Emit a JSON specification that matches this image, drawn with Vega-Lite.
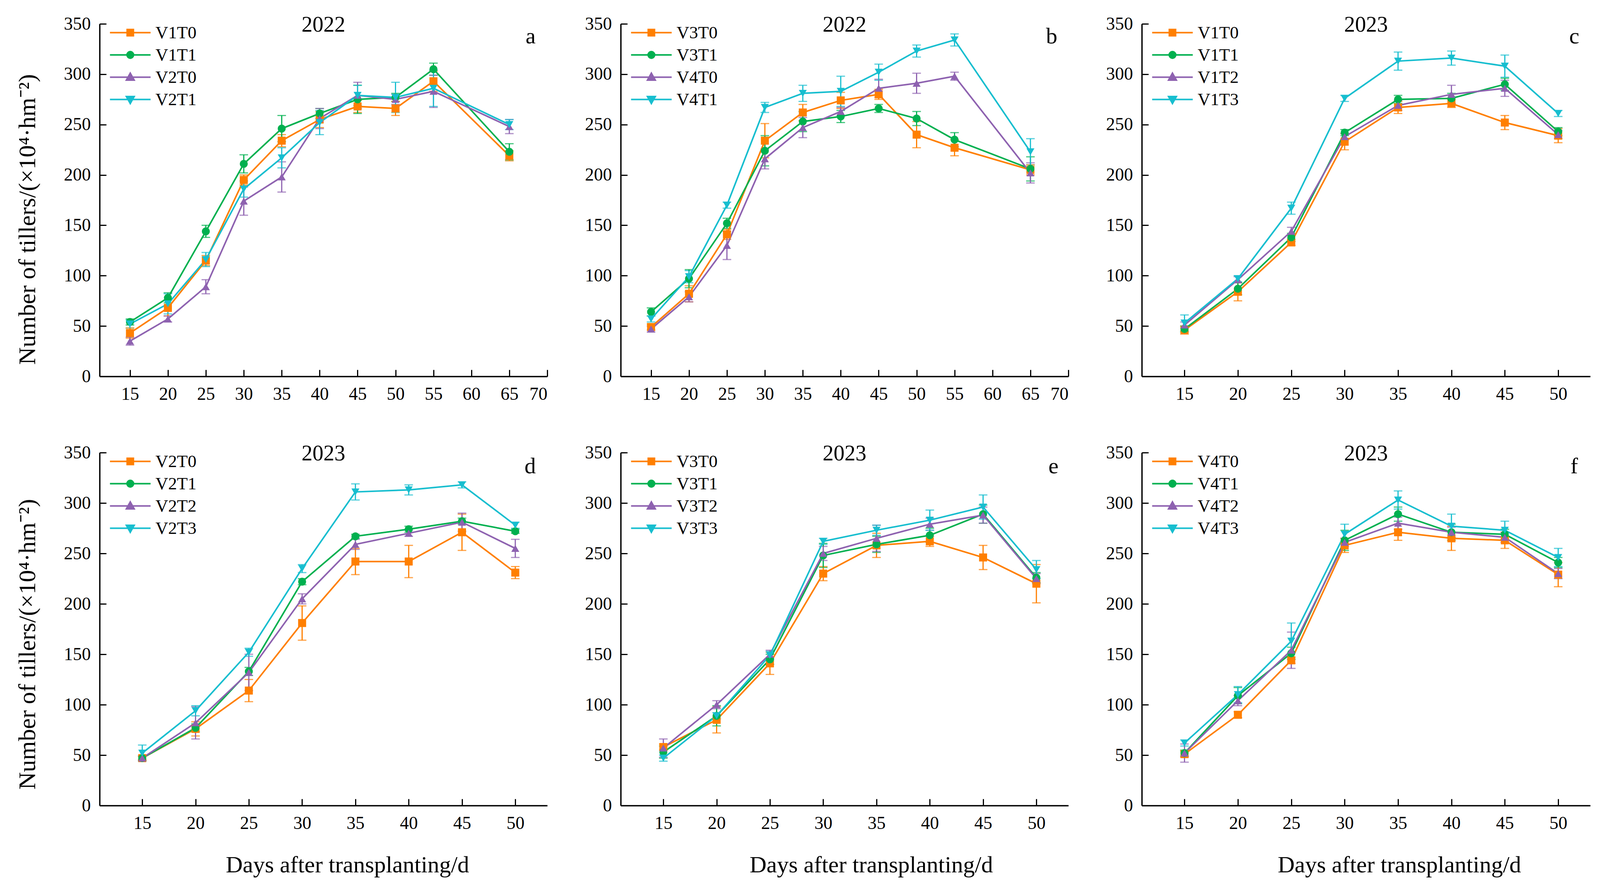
{
"$schema": "https://vega.github.io/schema/vega-lite/v6.json",
"background": "white",
"padding": {"left": 38, "top": 36, "right": 5, "bottom": 52},
"columns": 3,
"spacing": {"row": 195, "column": 188},
"bounds": "flush",
"resolve": {"scale": {"color": "independent", "x": "independent", "y": "independent"}, "legend": {"color": "independent"}, "axis": {"x": "independent", "y": "independent"}},
"datasets": {"tillers": [
{"panel":"a","series":"V1T0","day":15,"mean":43,"sd":5},{"panel":"a","series":"V1T0","day":20,"mean":68,"sd":8},{"panel":"a","series":"V1T0","day":25,"mean":115,"sd":5},{"panel":"a","series":"V1T0","day":30,"mean":195,"sd":5},{"panel":"a","series":"V1T0","day":35,"mean":234,"sd":6},{"panel":"a","series":"V1T0","day":40,"mean":255,"sd":8},{"panel":"a","series":"V1T0","day":45,"mean":268,"sd":6},{"panel":"a","series":"V1T0","day":50,"mean":266,"sd":7},{"panel":"a","series":"V1T0","day":55,"mean":293,"sd":10},{"panel":"a","series":"V1T0","day":65,"mean":219,"sd":5},
{"panel":"a","series":"V1T1","day":15,"mean":54,"sd":3},{"panel":"a","series":"V1T1","day":20,"mean":78,"sd":5},{"panel":"a","series":"V1T1","day":25,"mean":144,"sd":6},{"panel":"a","series":"V1T1","day":30,"mean":211,"sd":9},{"panel":"a","series":"V1T1","day":35,"mean":246,"sd":13},{"panel":"a","series":"V1T1","day":40,"mean":261,"sd":5},{"panel":"a","series":"V1T1","day":45,"mean":275,"sd":14},{"panel":"a","series":"V1T1","day":50,"mean":277,"sd":4},{"panel":"a","series":"V1T1","day":55,"mean":305,"sd":6},{"panel":"a","series":"V1T1","day":65,"mean":223,"sd":8},
{"panel":"a","series":"V2T0","day":15,"mean":35,"sd":4},{"panel":"a","series":"V2T0","day":20,"mean":57,"sd":3},{"panel":"a","series":"V2T0","day":25,"mean":89,"sd":7},{"panel":"a","series":"V2T0","day":30,"mean":174,"sd":14},{"panel":"a","series":"V2T0","day":35,"mean":198,"sd":15},{"panel":"a","series":"V2T0","day":40,"mean":256,"sd":10},{"panel":"a","series":"V2T0","day":45,"mean":279,"sd":13},{"panel":"a","series":"V2T0","day":50,"mean":275,"sd":5},{"panel":"a","series":"V2T0","day":55,"mean":283,"sd":16},{"panel":"a","series":"V2T0","day":65,"mean":248,"sd":7},
{"panel":"a","series":"V2T1","day":15,"mean":52,"sd":4},{"panel":"a","series":"V2T1","day":20,"mean":72,"sd":10},{"panel":"a","series":"V2T1","day":25,"mean":116,"sd":7},{"panel":"a","series":"V2T1","day":30,"mean":186,"sd":8},{"panel":"a","series":"V2T1","day":35,"mean":217,"sd":10},{"panel":"a","series":"V2T1","day":40,"mean":252,"sd":12},{"panel":"a","series":"V2T1","day":45,"mean":279,"sd":10},{"panel":"a","series":"V2T1","day":50,"mean":277,"sd":15},{"panel":"a","series":"V2T1","day":55,"mean":286,"sd":18},{"panel":"a","series":"V2T1","day":65,"mean":250,"sd":5},
{"panel":"b","series":"V3T0","day":15,"mean":49,"sd":3},{"panel":"b","series":"V3T0","day":20,"mean":82,"sd":8},{"panel":"b","series":"V3T0","day":25,"mean":141,"sd":5},{"panel":"b","series":"V3T0","day":30,"mean":234,"sd":17},{"panel":"b","series":"V3T0","day":35,"mean":262,"sd":8},{"panel":"b","series":"V3T0","day":40,"mean":274,"sd":8},{"panel":"b","series":"V3T0","day":45,"mean":280,"sd":5},{"panel":"b","series":"V3T0","day":50,"mean":240,"sd":13},{"panel":"b","series":"V3T0","day":55,"mean":227,"sd":8},{"panel":"b","series":"V3T0","day":65,"mean":205,"sd":5},
{"panel":"b","series":"V3T1","day":15,"mean":64,"sd":4},{"panel":"b","series":"V3T1","day":20,"mean":97,"sd":9},{"panel":"b","series":"V3T1","day":25,"mean":152,"sd":5},{"panel":"b","series":"V3T1","day":30,"mean":224,"sd":15},{"panel":"b","series":"V3T1","day":35,"mean":253,"sd":10},{"panel":"b","series":"V3T1","day":40,"mean":258,"sd":6},{"panel":"b","series":"V3T1","day":45,"mean":266,"sd":4},{"panel":"b","series":"V3T1","day":50,"mean":256,"sd":7},{"panel":"b","series":"V3T1","day":55,"mean":235,"sd":7},{"panel":"b","series":"V3T1","day":65,"mean":206,"sd":12},
{"panel":"b","series":"V4T0","day":15,"mean":47,"sd":3},{"panel":"b","series":"V4T0","day":20,"mean":79,"sd":5},{"panel":"b","series":"V4T0","day":25,"mean":130,"sd":14},{"panel":"b","series":"V4T0","day":30,"mean":216,"sd":10},{"panel":"b","series":"V4T0","day":35,"mean":247,"sd":10},{"panel":"b","series":"V4T0","day":40,"mean":263,"sd":4},{"panel":"b","series":"V4T0","day":45,"mean":286,"sd":9},{"panel":"b","series":"V4T0","day":50,"mean":291,"sd":10},{"panel":"b","series":"V4T0","day":55,"mean":298,"sd":4},{"panel":"b","series":"V4T0","day":65,"mean":202,"sd":10},
{"panel":"b","series":"V4T1","day":15,"mean":57,"sd":3},{"panel":"b","series":"V4T1","day":20,"mean":99,"sd":6},{"panel":"b","series":"V4T1","day":25,"mean":170,"sd":3},{"panel":"b","series":"V4T1","day":30,"mean":267,"sd":5},{"panel":"b","series":"V4T1","day":35,"mean":281,"sd":8},{"panel":"b","series":"V4T1","day":40,"mean":283,"sd":15},{"panel":"b","series":"V4T1","day":45,"mean":302,"sd":8},{"panel":"b","series":"V4T1","day":50,"mean":323,"sd":6},{"panel":"b","series":"V4T1","day":55,"mean":334,"sd":6},{"panel":"b","series":"V4T1","day":65,"mean":223,"sd":13},
{"panel":"c","series":"V1T0","day":15,"mean":46,"sd":4},{"panel":"c","series":"V1T0","day":20,"mean":84,"sd":9},{"panel":"c","series":"V1T0","day":25,"mean":133,"sd":3},{"panel":"c","series":"V1T0","day":30,"mean":233,"sd":8},{"panel":"c","series":"V1T0","day":35,"mean":267,"sd":6},{"panel":"c","series":"V1T0","day":40,"mean":271,"sd":4},{"panel":"c","series":"V1T0","day":45,"mean":252,"sd":7},{"panel":"c","series":"V1T0","day":50,"mean":239,"sd":7},
{"panel":"c","series":"V1T1","day":15,"mean":47,"sd":3},{"panel":"c","series":"V1T1","day":20,"mean":87,"sd":6},{"panel":"c","series":"V1T1","day":25,"mean":138,"sd":4},{"panel":"c","series":"V1T1","day":30,"mean":242,"sd":3},{"panel":"c","series":"V1T1","day":35,"mean":275,"sd":4},{"panel":"c","series":"V1T1","day":40,"mean":276,"sd":5},{"panel":"c","series":"V1T1","day":45,"mean":290,"sd":6},{"panel":"c","series":"V1T1","day":50,"mean":243,"sd":4},
{"panel":"c","series":"V1T2","day":15,"mean":51,"sd":3},{"panel":"c","series":"V1T2","day":20,"mean":96,"sd":3},{"panel":"c","series":"V1T2","day":25,"mean":144,"sd":4},{"panel":"c","series":"V1T2","day":30,"mean":238,"sd":3},{"panel":"c","series":"V1T2","day":35,"mean":269,"sd":5},{"panel":"c","series":"V1T2","day":40,"mean":280,"sd":9},{"panel":"c","series":"V1T2","day":45,"mean":286,"sd":8},{"panel":"c","series":"V1T2","day":50,"mean":240,"sd":4},
{"panel":"c","series":"V1T3","day":15,"mean":53,"sd":8},{"panel":"c","series":"V1T3","day":20,"mean":97,"sd":3},{"panel":"c","series":"V1T3","day":25,"mean":167,"sd":6},{"panel":"c","series":"V1T3","day":30,"mean":276,"sd":3},{"panel":"c","series":"V1T3","day":35,"mean":313,"sd":9},{"panel":"c","series":"V1T3","day":40,"mean":316,"sd":7},{"panel":"c","series":"V1T3","day":45,"mean":308,"sd":11},{"panel":"c","series":"V1T3","day":50,"mean":261,"sd":3},
{"panel":"d","series":"V2T0","day":15,"mean":47,"sd":2},{"panel":"d","series":"V2T0","day":20,"mean":76,"sd":7},{"panel":"d","series":"V2T0","day":25,"mean":114,"sd":11},{"panel":"d","series":"V2T0","day":30,"mean":181,"sd":17},{"panel":"d","series":"V2T0","day":35,"mean":242,"sd":13},{"panel":"d","series":"V2T0","day":40,"mean":242,"sd":16},{"panel":"d","series":"V2T0","day":45,"mean":271,"sd":18},{"panel":"d","series":"V2T0","day":50,"mean":231,"sd":6},
{"panel":"d","series":"V2T1","day":15,"mean":47,"sd":2},{"panel":"d","series":"V2T1","day":20,"mean":77,"sd":4},{"panel":"d","series":"V2T1","day":25,"mean":133,"sd":4},{"panel":"d","series":"V2T1","day":30,"mean":222,"sd":3},{"panel":"d","series":"V2T1","day":35,"mean":267,"sd":2},{"panel":"d","series":"V2T1","day":40,"mean":274,"sd":3},{"panel":"d","series":"V2T1","day":45,"mean":282,"sd":3},{"panel":"d","series":"V2T1","day":50,"mean":272,"sd":2},
{"panel":"d","series":"V2T2","day":15,"mean":47,"sd":2},{"panel":"d","series":"V2T2","day":20,"mean":82,"sd":16},{"panel":"d","series":"V2T2","day":25,"mean":132,"sd":18},{"panel":"d","series":"V2T2","day":30,"mean":205,"sd":5},{"panel":"d","series":"V2T2","day":35,"mean":259,"sd":5},{"panel":"d","series":"V2T2","day":40,"mean":270,"sd":3},{"panel":"d","series":"V2T2","day":45,"mean":281,"sd":9},{"panel":"d","series":"V2T2","day":50,"mean":255,"sd":9},
{"panel":"d","series":"V2T3","day":15,"mean":52,"sd":8},{"panel":"d","series":"V2T3","day":20,"mean":94,"sd":5},{"panel":"d","series":"V2T3","day":25,"mean":152,"sd":4},{"panel":"d","series":"V2T3","day":30,"mean":235,"sd":4},{"panel":"d","series":"V2T3","day":35,"mean":311,"sd":8},{"panel":"d","series":"V2T3","day":40,"mean":313,"sd":5},{"panel":"d","series":"V2T3","day":45,"mean":318,"sd":3},{"panel":"d","series":"V2T3","day":50,"mean":278,"sd":3},
{"panel":"e","series":"V3T0","day":15,"mean":58,"sd":3},{"panel":"e","series":"V3T0","day":20,"mean":85,"sd":13},{"panel":"e","series":"V3T0","day":25,"mean":141,"sd":11},{"panel":"e","series":"V3T0","day":30,"mean":230,"sd":7},{"panel":"e","series":"V3T0","day":35,"mean":258,"sd":12},{"panel":"e","series":"V3T0","day":40,"mean":262,"sd":5},{"panel":"e","series":"V3T0","day":45,"mean":246,"sd":12},{"panel":"e","series":"V3T0","day":50,"mean":220,"sd":19},
{"panel":"e","series":"V3T1","day":15,"mean":53,"sd":6},{"panel":"e","series":"V3T1","day":20,"mean":89,"sd":10},{"panel":"e","series":"V3T1","day":25,"mean":145,"sd":5},{"panel":"e","series":"V3T1","day":30,"mean":248,"sd":12},{"panel":"e","series":"V3T1","day":35,"mean":259,"sd":8},{"panel":"e","series":"V3T1","day":40,"mean":268,"sd":7},{"panel":"e","series":"V3T1","day":45,"mean":289,"sd":9},{"panel":"e","series":"V3T1","day":50,"mean":226,"sd":5},
{"panel":"e","series":"V3T2","day":15,"mean":57,"sd":9},{"panel":"e","series":"V3T2","day":20,"mean":100,"sd":4},{"panel":"e","series":"V3T2","day":25,"mean":150,"sd":4},{"panel":"e","series":"V3T2","day":30,"mean":250,"sd":7},{"panel":"e","series":"V3T2","day":35,"mean":265,"sd":13},{"panel":"e","series":"V3T2","day":40,"mean":279,"sd":6},{"panel":"e","series":"V3T2","day":45,"mean":288,"sd":8},{"panel":"e","series":"V3T2","day":50,"mean":225,"sd":5},
{"panel":"e","series":"V3T3","day":15,"mean":47,"sd":3},{"panel":"e","series":"V3T3","day":20,"mean":89,"sd":3},{"panel":"e","series":"V3T3","day":25,"mean":149,"sd":4},{"panel":"e","series":"V3T3","day":30,"mean":262,"sd":3},{"panel":"e","series":"V3T3","day":35,"mean":273,"sd":5},{"panel":"e","series":"V3T3","day":40,"mean":283,"sd":10},{"panel":"e","series":"V3T3","day":45,"mean":296,"sd":12},{"panel":"e","series":"V3T3","day":50,"mean":234,"sd":9},
{"panel":"f","series":"V4T0","day":15,"mean":51,"sd":3},{"panel":"f","series":"V4T0","day":20,"mean":90,"sd":3},{"panel":"f","series":"V4T0","day":25,"mean":144,"sd":3},{"panel":"f","series":"V4T0","day":30,"mean":258,"sd":7},{"panel":"f","series":"V4T0","day":35,"mean":271,"sd":8},{"panel":"f","series":"V4T0","day":40,"mean":265,"sd":12},{"panel":"f","series":"V4T0","day":45,"mean":263,"sd":8},{"panel":"f","series":"V4T0","day":50,"mean":229,"sd":12},
{"panel":"f","series":"V4T1","day":15,"mean":52,"sd":3},{"panel":"f","series":"V4T1","day":20,"mean":109,"sd":8},{"panel":"f","series":"V4T1","day":25,"mean":151,"sd":6},{"panel":"f","series":"V4T1","day":30,"mean":263,"sd":10},{"panel":"f","series":"V4T1","day":35,"mean":289,"sd":7},{"panel":"f","series":"V4T1","day":40,"mean":271,"sd":8},{"panel":"f","series":"V4T1","day":45,"mean":269,"sd":5},{"panel":"f","series":"V4T1","day":50,"mean":241,"sd":5},
{"panel":"f","series":"V4T2","day":15,"mean":52,"sd":9},{"panel":"f","series":"V4T2","day":20,"mean":104,"sd":5},{"panel":"f","series":"V4T2","day":25,"mean":154,"sd":18},{"panel":"f","series":"V4T2","day":30,"mean":261,"sd":4},{"panel":"f","series":"V4T2","day":35,"mean":280,"sd":6},{"panel":"f","series":"V4T2","day":40,"mean":271,"sd":5},{"panel":"f","series":"V4T2","day":45,"mean":266,"sd":5},{"panel":"f","series":"V4T2","day":50,"mean":230,"sd":5},
{"panel":"f","series":"V4T3","day":15,"mean":62,"sd":3},{"panel":"f","series":"V4T3","day":20,"mean":110,"sd":8},{"panel":"f","series":"V4T3","day":25,"mean":163,"sd":18},{"panel":"f","series":"V4T3","day":30,"mean":269,"sd":10},{"panel":"f","series":"V4T3","day":35,"mean":303,"sd":9},{"panel":"f","series":"V4T3","day":40,"mean":277,"sd":12},{"panel":"f","series":"V4T3","day":45,"mean":273,"sd":9},{"panel":"f","series":"V4T3","day":50,"mean":246,"sd":9}
]},
"concat": [
  {"width": 1146, "height": 902, "title": {"text": "2022"},
   "data": {"name": "tillers"}, "transform": [{"filter": "datum.panel === 'a'"}],
   "encoding": {
    "x": {"field": "day", "type": "quantitative", "scale": {"domain": [11, 70], "nice": false, "zero": false}, "axis": {"values": [15,20,25,30,35,40,45,50,55,60,65,70], "title": null}},
    "y": {"field": "mean", "type": "quantitative", "scale": {"domain": [0, 350], "nice": false}, "axis": {"values": [0,50,100,150,200,250,300,350], "title": "Number of tillers/(×10⁴·hm⁻²)", "titleX": -166, "titleY": 500, "titleAlign": "center", "titleBaseline": "alphabetic", "titleAngle": 270, "titleFontSize": 62}},
    "color": {"field": "series", "type": "nominal", "scale": {"domain": ["V1T0","V1T1","V2T0","V2T1"], "range": ["#FF7F00","#00B04F","#8E62B0","#17BECF"]},
      "legend": {"title": null, "encode": {"symbols": {"update": {
        "shape": {"signal": "['M-2.6,0H2.6M-0.4,-0.4H0.4V0.4H-0.4Z','M-2.6,0H2.6M0.42,0A0.42,0.42,0,1,1,-0.42,0A0.42,0.42,0,1,1,0.42,0Z','M-2.6,0H2.6M0,-0.52L0.5,0.38H-0.5Z','M-2.6,0H2.6M0,0.52L0.5,-0.38H-0.5Z'][indexof(['V1T0','V1T1','V2T0','V2T1'], datum.value)]"},
        "fill": {"signal": "['#FF7F00','#00B04F','#8E62B0','#17BECF'][indexof(['V1T0','V1T1','V2T0','V2T1'], datum.value)]"},
        "stroke": {"signal": "['#FF7F00','#00B04F','#8E62B0','#17BECF'][indexof(['V1T0','V1T1','V2T0','V2T1'], datum.value)]"},
        "strokeWidth": {"value": 4}, "size": {"value": 1600}, "opacity": {"value": 1}}}}}}
   },
   "layer": [
    {"mark": {"type": "errorbar", "thickness": 3, "ticks": {"size": 22, "thickness": 3}}, "encoding": {"yError": {"field": "sd"}}},
    {"mark": {"type": "line", "strokeWidth": 4}},
    {"transform": [{"filter": "datum.series === 'V1T0'"}], "mark": {"type": "point", "shape": "square", "filled": true, "size": 420, "opacity": 1}},
    {"transform": [{"filter": "datum.series === 'V1T1'"}], "mark": {"type": "point", "shape": "circle", "filled": true, "size": 420, "opacity": 1}},
    {"transform": [{"filter": "datum.series === 'V2T0'"}], "mark": {"type": "point", "shape": "triangle-up", "filled": true, "size": 420, "opacity": 1}},
    {"transform": [{"filter": "datum.series === 'V2T1'"}], "mark": {"type": "point", "shape": "triangle-down", "filled": true, "size": 420, "opacity": 1}},
    {"transform": [{"filter": "datum.day === 15 && datum.series === 'V1T0'"}], "mark": {"type": "text", "text": "a", "fontSize": 58, "baseline": "alphabetic", "align": "center"}, "encoding": {"x": {"datum": 67.8, "type": "quantitative"}, "y": {"datum": 330.5, "type": "quantitative"}, "color": {"value": "black"}}}
   ]},
  {"width": 1146, "height": 902, "title": {"text": "2022"},
   "data": {"name": "tillers"}, "transform": [{"filter": "datum.panel === 'b'"}],
   "encoding": {
    "x": {"field": "day", "type": "quantitative", "scale": {"domain": [11, 70], "nice": false, "zero": false}, "axis": {"values": [15,20,25,30,35,40,45,50,55,60,65,70], "title": null}},
    "y": {"field": "mean", "type": "quantitative", "scale": {"domain": [0, 350], "nice": false}, "axis": {"values": [0,50,100,150,200,250,300,350], "title": null}},
    "color": {"field": "series", "type": "nominal", "scale": {"domain": ["V3T0","V3T1","V4T0","V4T1"], "range": ["#FF7F00","#00B04F","#8E62B0","#17BECF"]},
      "legend": {"title": null, "encode": {"symbols": {"update": {
        "shape": {"signal": "['M-2.6,0H2.6M-0.4,-0.4H0.4V0.4H-0.4Z','M-2.6,0H2.6M0.42,0A0.42,0.42,0,1,1,-0.42,0A0.42,0.42,0,1,1,0.42,0Z','M-2.6,0H2.6M0,-0.52L0.5,0.38H-0.5Z','M-2.6,0H2.6M0,0.52L0.5,-0.38H-0.5Z'][indexof(['V3T0','V3T1','V4T0','V4T1'], datum.value)]"},
        "fill": {"signal": "['#FF7F00','#00B04F','#8E62B0','#17BECF'][indexof(['V3T0','V3T1','V4T0','V4T1'], datum.value)]"},
        "stroke": {"signal": "['#FF7F00','#00B04F','#8E62B0','#17BECF'][indexof(['V3T0','V3T1','V4T0','V4T1'], datum.value)]"},
        "strokeWidth": {"value": 4}, "size": {"value": 1600}, "opacity": {"value": 1}}}}}}
   },
   "layer": [
    {"mark": {"type": "errorbar", "thickness": 3, "ticks": {"size": 22, "thickness": 3}}, "encoding": {"yError": {"field": "sd"}}},
    {"mark": {"type": "line", "strokeWidth": 4}},
    {"transform": [{"filter": "datum.series === 'V3T0'"}], "mark": {"type": "point", "shape": "square", "filled": true, "size": 420, "opacity": 1}},
    {"transform": [{"filter": "datum.series === 'V3T1'"}], "mark": {"type": "point", "shape": "circle", "filled": true, "size": 420, "opacity": 1}},
    {"transform": [{"filter": "datum.series === 'V4T0'"}], "mark": {"type": "point", "shape": "triangle-up", "filled": true, "size": 420, "opacity": 1}},
    {"transform": [{"filter": "datum.series === 'V4T1'"}], "mark": {"type": "point", "shape": "triangle-down", "filled": true, "size": 420, "opacity": 1}},
    {"transform": [{"filter": "datum.day === 15 && datum.series === 'V3T0'"}], "mark": {"type": "text", "text": "b", "fontSize": 58, "baseline": "alphabetic", "align": "center"}, "encoding": {"x": {"datum": 67.8, "type": "quantitative"}, "y": {"datum": 330.5, "type": "quantitative"}, "color": {"value": "black"}}}
   ]},
  {"width": 1148, "height": 902, "title": {"text": "2023"},
   "data": {"name": "tillers"}, "transform": [{"filter": "datum.panel === 'c'"}],
   "encoding": {
    "x": {"field": "day", "type": "quantitative", "scale": {"domain": [11, 53], "nice": false, "zero": false}, "axis": {"values": [15,20,25,30,35,40,45,50], "title": null}},
    "y": {"field": "mean", "type": "quantitative", "scale": {"domain": [0, 350], "nice": false}, "axis": {"values": [0,50,100,150,200,250,300,350], "title": null}},
    "color": {"field": "series", "type": "nominal", "scale": {"domain": ["V1T0","V1T1","V1T2","V1T3"], "range": ["#FF7F00","#00B04F","#8E62B0","#17BECF"]},
      "legend": {"title": null, "encode": {"symbols": {"update": {
        "shape": {"signal": "['M-2.6,0H2.6M-0.4,-0.4H0.4V0.4H-0.4Z','M-2.6,0H2.6M0.42,0A0.42,0.42,0,1,1,-0.42,0A0.42,0.42,0,1,1,0.42,0Z','M-2.6,0H2.6M0,-0.52L0.5,0.38H-0.5Z','M-2.6,0H2.6M0,0.52L0.5,-0.38H-0.5Z'][indexof(['V1T0','V1T1','V1T2','V1T3'], datum.value)]"},
        "fill": {"signal": "['#FF7F00','#00B04F','#8E62B0','#17BECF'][indexof(['V1T0','V1T1','V1T2','V1T3'], datum.value)]"},
        "stroke": {"signal": "['#FF7F00','#00B04F','#8E62B0','#17BECF'][indexof(['V1T0','V1T1','V1T2','V1T3'], datum.value)]"},
        "strokeWidth": {"value": 4}, "size": {"value": 1600}, "opacity": {"value": 1}}}}}}
   },
   "layer": [
    {"mark": {"type": "errorbar", "thickness": 3, "ticks": {"size": 22, "thickness": 3}}, "encoding": {"yError": {"field": "sd"}}},
    {"mark": {"type": "line", "strokeWidth": 4}},
    {"transform": [{"filter": "datum.series === 'V1T0'"}], "mark": {"type": "point", "shape": "square", "filled": true, "size": 420, "opacity": 1}},
    {"transform": [{"filter": "datum.series === 'V1T1'"}], "mark": {"type": "point", "shape": "circle", "filled": true, "size": 420, "opacity": 1}},
    {"transform": [{"filter": "datum.series === 'V1T2'"}], "mark": {"type": "point", "shape": "triangle-up", "filled": true, "size": 420, "opacity": 1}},
    {"transform": [{"filter": "datum.series === 'V1T3'"}], "mark": {"type": "point", "shape": "triangle-down", "filled": true, "size": 420, "opacity": 1}},
    {"transform": [{"filter": "datum.day === 15 && datum.series === 'V1T0'"}], "mark": {"type": "text", "text": "c", "fontSize": 58, "baseline": "alphabetic", "align": "center"}, "encoding": {"x": {"datum": 51.5, "type": "quantitative"}, "y": {"datum": 330.5, "type": "quantitative"}, "color": {"value": "black"}}}
   ]},
  {"width": 1146, "height": 903, "title": {"text": "2023"},
   "data": {"name": "tillers"}, "transform": [{"filter": "datum.panel === 'd'"}],
   "encoding": {
    "x": {"field": "day", "type": "quantitative", "scale": {"domain": [11, 53], "nice": false, "zero": false}, "axis": {"values": [15,20,25,30,35,40,45,50], "title": "Days after transplanting/d", "titleX": 634, "titleY": 170, "titleAlign": "center", "titleBaseline": "alphabetic", "titleFontSize": 60}},
    "y": {"field": "mean", "type": "quantitative", "scale": {"domain": [0, 350], "nice": false}, "axis": {"values": [0,50,100,150,200,250,300,350], "title": "Number of tillers/(×10⁴·hm⁻²)", "titleX": -166, "titleY": 490, "titleAlign": "center", "titleBaseline": "alphabetic", "titleAngle": 270, "titleFontSize": 62}},
    "color": {"field": "series", "type": "nominal", "scale": {"domain": ["V2T0","V2T1","V2T2","V2T3"], "range": ["#FF7F00","#00B04F","#8E62B0","#17BECF"]},
      "legend": {"title": null, "encode": {"symbols": {"update": {
        "shape": {"signal": "['M-2.6,0H2.6M-0.4,-0.4H0.4V0.4H-0.4Z','M-2.6,0H2.6M0.42,0A0.42,0.42,0,1,1,-0.42,0A0.42,0.42,0,1,1,0.42,0Z','M-2.6,0H2.6M0,-0.52L0.5,0.38H-0.5Z','M-2.6,0H2.6M0,0.52L0.5,-0.38H-0.5Z'][indexof(['V2T0','V2T1','V2T2','V2T3'], datum.value)]"},
        "fill": {"signal": "['#FF7F00','#00B04F','#8E62B0','#17BECF'][indexof(['V2T0','V2T1','V2T2','V2T3'], datum.value)]"},
        "stroke": {"signal": "['#FF7F00','#00B04F','#8E62B0','#17BECF'][indexof(['V2T0','V2T1','V2T2','V2T3'], datum.value)]"},
        "strokeWidth": {"value": 4}, "size": {"value": 1600}, "opacity": {"value": 1}}}}}}
   },
   "layer": [
    {"mark": {"type": "errorbar", "thickness": 3, "ticks": {"size": 22, "thickness": 3}}, "encoding": {"yError": {"field": "sd"}}},
    {"mark": {"type": "line", "strokeWidth": 4}},
    {"transform": [{"filter": "datum.series === 'V2T0'"}], "mark": {"type": "point", "shape": "square", "filled": true, "size": 420, "opacity": 1}},
    {"transform": [{"filter": "datum.series === 'V2T1'"}], "mark": {"type": "point", "shape": "circle", "filled": true, "size": 420, "opacity": 1}},
    {"transform": [{"filter": "datum.series === 'V2T2'"}], "mark": {"type": "point", "shape": "triangle-up", "filled": true, "size": 420, "opacity": 1}},
    {"transform": [{"filter": "datum.series === 'V2T3'"}], "mark": {"type": "point", "shape": "triangle-down", "filled": true, "size": 420, "opacity": 1}},
    {"transform": [{"filter": "datum.day === 15 && datum.series === 'V2T0'"}], "mark": {"type": "text", "text": "d", "fontSize": 58, "baseline": "alphabetic", "align": "center"}, "encoding": {"x": {"datum": 51.4, "type": "quantitative"}, "y": {"datum": 329.5, "type": "quantitative"}, "color": {"value": "black"}}}
   ]},
  {"width": 1146, "height": 903, "title": {"text": "2023"},
   "data": {"name": "tillers"}, "transform": [{"filter": "datum.panel === 'e'"}],
   "encoding": {
    "x": {"field": "day", "type": "quantitative", "scale": {"domain": [11, 53], "nice": false, "zero": false}, "axis": {"values": [15,20,25,30,35,40,45,50], "title": "Days after transplanting/d", "titleX": 641, "titleY": 170, "titleAlign": "center", "titleBaseline": "alphabetic", "titleFontSize": 60}},
    "y": {"field": "mean", "type": "quantitative", "scale": {"domain": [0, 350], "nice": false}, "axis": {"values": [0,50,100,150,200,250,300,350], "title": null}},
    "color": {"field": "series", "type": "nominal", "scale": {"domain": ["V3T0","V3T1","V3T2","V3T3"], "range": ["#FF7F00","#00B04F","#8E62B0","#17BECF"]},
      "legend": {"title": null, "encode": {"symbols": {"update": {
        "shape": {"signal": "['M-2.6,0H2.6M-0.4,-0.4H0.4V0.4H-0.4Z','M-2.6,0H2.6M0.42,0A0.42,0.42,0,1,1,-0.42,0A0.42,0.42,0,1,1,0.42,0Z','M-2.6,0H2.6M0,-0.52L0.5,0.38H-0.5Z','M-2.6,0H2.6M0,0.52L0.5,-0.38H-0.5Z'][indexof(['V3T0','V3T1','V3T2','V3T3'], datum.value)]"},
        "fill": {"signal": "['#FF7F00','#00B04F','#8E62B0','#17BECF'][indexof(['V3T0','V3T1','V3T2','V3T3'], datum.value)]"},
        "stroke": {"signal": "['#FF7F00','#00B04F','#8E62B0','#17BECF'][indexof(['V3T0','V3T1','V3T2','V3T3'], datum.value)]"},
        "strokeWidth": {"value": 4}, "size": {"value": 1600}, "opacity": {"value": 1}}}}}}
   },
   "layer": [
    {"mark": {"type": "errorbar", "thickness": 3, "ticks": {"size": 22, "thickness": 3}}, "encoding": {"yError": {"field": "sd"}}},
    {"mark": {"type": "line", "strokeWidth": 4}},
    {"transform": [{"filter": "datum.series === 'V3T0'"}], "mark": {"type": "point", "shape": "square", "filled": true, "size": 420, "opacity": 1}},
    {"transform": [{"filter": "datum.series === 'V3T1'"}], "mark": {"type": "point", "shape": "circle", "filled": true, "size": 420, "opacity": 1}},
    {"transform": [{"filter": "datum.series === 'V3T2'"}], "mark": {"type": "point", "shape": "triangle-up", "filled": true, "size": 420, "opacity": 1}},
    {"transform": [{"filter": "datum.series === 'V3T3'"}], "mark": {"type": "point", "shape": "triangle-down", "filled": true, "size": 420, "opacity": 1}},
    {"transform": [{"filter": "datum.day === 15 && datum.series === 'V3T0'"}], "mark": {"type": "text", "text": "e", "fontSize": 58, "baseline": "alphabetic", "align": "center"}, "encoding": {"x": {"datum": 51.6, "type": "quantitative"}, "y": {"datum": 329.5, "type": "quantitative"}, "color": {"value": "black"}}}
   ]},
  {"width": 1148, "height": 903, "title": {"text": "2023"},
   "data": {"name": "tillers"}, "transform": [{"filter": "datum.panel === 'f'"}],
   "encoding": {
    "x": {"field": "day", "type": "quantitative", "scale": {"domain": [11, 53], "nice": false, "zero": false}, "axis": {"values": [15,20,25,30,35,40,45,50], "title": "Days after transplanting/d", "titleX": 659, "titleY": 170, "titleAlign": "center", "titleBaseline": "alphabetic", "titleFontSize": 60}},
    "y": {"field": "mean", "type": "quantitative", "scale": {"domain": [0, 350], "nice": false}, "axis": {"values": [0,50,100,150,200,250,300,350], "title": null}},
    "color": {"field": "series", "type": "nominal", "scale": {"domain": ["V4T0","V4T1","V4T2","V4T3"], "range": ["#FF7F00","#00B04F","#8E62B0","#17BECF"]},
      "legend": {"title": null, "encode": {"symbols": {"update": {
        "shape": {"signal": "['M-2.6,0H2.6M-0.4,-0.4H0.4V0.4H-0.4Z','M-2.6,0H2.6M0.42,0A0.42,0.42,0,1,1,-0.42,0A0.42,0.42,0,1,1,0.42,0Z','M-2.6,0H2.6M0,-0.52L0.5,0.38H-0.5Z','M-2.6,0H2.6M0,0.52L0.5,-0.38H-0.5Z'][indexof(['V4T0','V4T1','V4T2','V4T3'], datum.value)]"},
        "fill": {"signal": "['#FF7F00','#00B04F','#8E62B0','#17BECF'][indexof(['V4T0','V4T1','V4T2','V4T3'], datum.value)]"},
        "stroke": {"signal": "['#FF7F00','#00B04F','#8E62B0','#17BECF'][indexof(['V4T0','V4T1','V4T2','V4T3'], datum.value)]"},
        "strokeWidth": {"value": 4}, "size": {"value": 1600}, "opacity": {"value": 1}}}}}}
   },
   "layer": [
    {"mark": {"type": "errorbar", "thickness": 3, "ticks": {"size": 22, "thickness": 3}}, "encoding": {"yError": {"field": "sd"}}},
    {"mark": {"type": "line", "strokeWidth": 4}},
    {"transform": [{"filter": "datum.series === 'V4T0'"}], "mark": {"type": "point", "shape": "square", "filled": true, "size": 420, "opacity": 1}},
    {"transform": [{"filter": "datum.series === 'V4T1'"}], "mark": {"type": "point", "shape": "circle", "filled": true, "size": 420, "opacity": 1}},
    {"transform": [{"filter": "datum.series === 'V4T2'"}], "mark": {"type": "point", "shape": "triangle-up", "filled": true, "size": 420, "opacity": 1}},
    {"transform": [{"filter": "datum.series === 'V4T3'"}], "mark": {"type": "point", "shape": "triangle-down", "filled": true, "size": 420, "opacity": 1}},
    {"transform": [{"filter": "datum.day === 15 && datum.series === 'V4T0'"}], "mark": {"type": "text", "text": "f", "fontSize": 58, "baseline": "alphabetic", "align": "center"}, "encoding": {"x": {"datum": 51.5, "type": "quantitative"}, "y": {"datum": 329.5, "type": "quantitative"}, "color": {"value": "black"}}}
   ]}
],
"config": {
 "font": "Liberation Serif",
 "view": {"stroke": null},
 "axis": {"grid": false, "domainColor": "black", "domainWidth": 3.5, "tickColor": "black", "tickWidth": 3, "tickSize": -17, "labelFont": "Liberation Serif", "labelFontSize": 46, "labelColor": "black", "labelPadding": 40, "titleFont": "Liberation Serif", "titleFontWeight": "normal", "titleColor": "black"},
 "title": {"font": "Liberation Serif", "fontSize": 56, "fontWeight": "normal", "color": "black", "offset": -55, "anchor": "middle", "baseline": "alphabetic"},
 "legend": {"orient": "none", "legendX": 56, "legendY": 0, "padding": 0, "labelFont": "Liberation Serif", "labelFontSize": 45, "labelColor": "black", "labelOffset": 42, "rowPadding": 11, "symbolSize": 1600, "symbolStrokeWidth": 4, "symbolOpacity": 1},
 "text": {"font": "Liberation Serif"}
}
}
